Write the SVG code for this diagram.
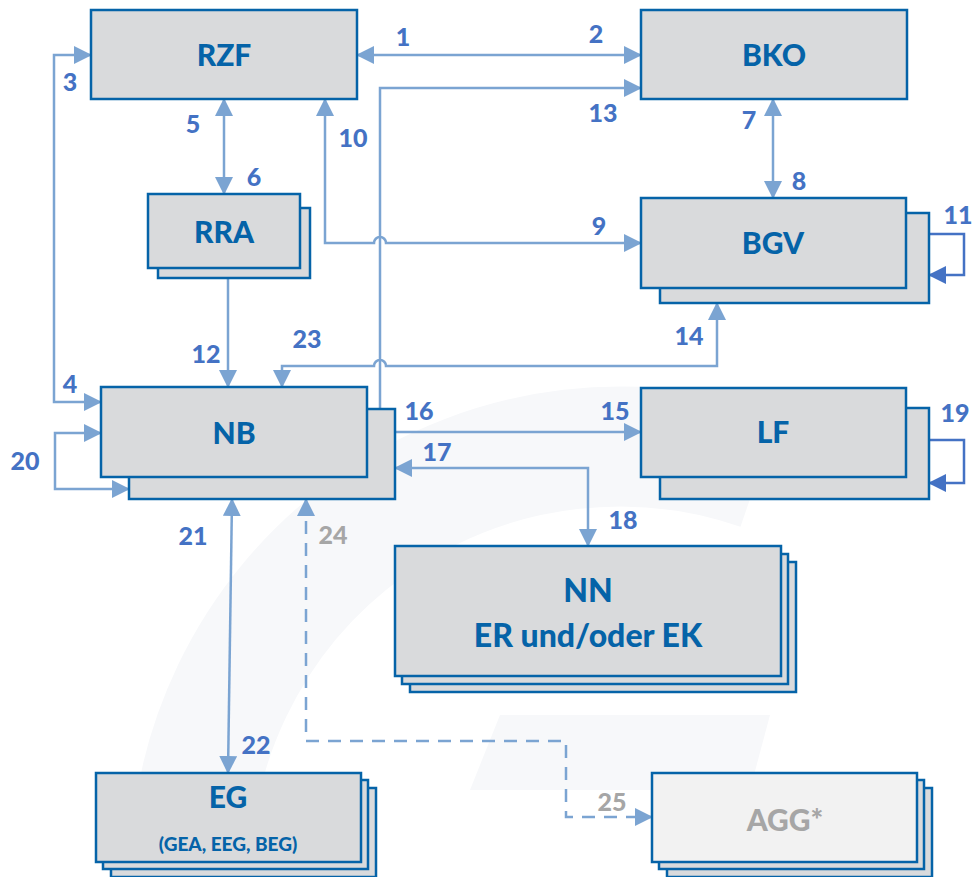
<svg xmlns="http://www.w3.org/2000/svg" width="975" height="877" viewBox="0 0 975 877">
<style>
.bg{fill:#fff}
.wm{fill:none;stroke:#f7f8fa}
.wmf{fill:#f7f8fa}
.n{fill:#d9dadc;stroke:#0563a8;stroke-width:2.5}
.na{fill:#f2f2f2;stroke:#0563a8;stroke-width:2.5}
.t{font-family:Lato,"Open Sans",sans-serif;font-weight:900;fill:#0563a8;text-anchor:middle}
.big{font-size:30px}
.nn{font-size:32px}
.small{font-size:19px}
.g{fill:#a6a6a6}
.c{fill:none;stroke:#7ba4d2;stroke-width:2.5}
.cd{fill:none;stroke:#4472c4;stroke-width:2.5}
.dash{stroke-dasharray:13 9}
.lb{font-family:Lato,"Open Sans",sans-serif;font-weight:900;font-size:25px;fill:#4472c4;text-anchor:middle}
.lg{fill:#a6a6a6}
</style>
<defs>
<marker id="a" viewBox="0 0 18 18" refX="17" refY="9" markerWidth="18" markerHeight="18" markerUnits="userSpaceOnUse" orient="auto-start-reverse"><path d="M0,0 L18,9 L0,18 z" fill="#7ba4d2"/></marker>
<marker id="ad" viewBox="0 0 18 18" refX="17" refY="9" markerWidth="18" markerHeight="18" markerUnits="userSpaceOnUse" orient="auto-start-reverse"><path d="M0,0 L18,9 L0,18 z" fill="#4472c4"/></marker>
</defs>
<rect class="bg" x="0" y="0" width="975" height="877"/>
<g id="watermark">
<path class="wm" stroke-width="120" d="M190,877 A430,430 0 0 1 760,470"/>
<polygon class="wmf" points="500,715 770,715 750,790 470,790"/>
</g>
<g id="connectors">
<path class="c" d="M357,55 H641" marker-start="url(#a)" marker-end="url(#a)"/>
<path class="c" d="M91,55 H54 V402 H101" marker-start="url(#a)" marker-end="url(#a)"/>
<path class="c" d="M224,99 V194" marker-start="url(#a)" marker-end="url(#a)"/>
<path class="c" d="M773,99 V198" marker-start="url(#a)" marker-end="url(#a)"/>
<path class="c" d="M325,99 V243 H374 A6,6 0 0 1 386,243 H641" marker-start="url(#a)" marker-end="url(#a)"/>
<path class="c" d="M380,409 V88 H641" marker-end="url(#a)"/>
<path class="cd" d="M906,234 H964 V275 H929" marker-start="url(#ad)" marker-end="url(#ad)"/>
<path class="c" d="M228,278 V387" marker-end="url(#a)"/>
<path class="c" d="M717,303 V366 H386 A6,6 0 0 0 374,366 H282 V387" marker-start="url(#a)" marker-end="url(#a)"/>
<path class="c" d="M367,432 H641" marker-start="url(#a)" marker-end="url(#a)"/>
<path class="c" d="M395,468 H588 V546" marker-start="url(#a)" marker-end="url(#a)"/>
<path class="cd" d="M906,440 H964 V483 H929" marker-start="url(#ad)" marker-end="url(#ad)"/>
<path class="c" d="M101,433 H55 V489 H129" marker-start="url(#a)" marker-end="url(#a)"/>
<path class="c" d="M232,499 L228,773" marker-start="url(#a)" marker-end="url(#a)"/>
<path class="c dash" d="M306,499 V741 H566 V817 H652" marker-start="url(#a)" marker-end="url(#a)"/>
</g>
<g id="RZF"><rect class="n" x="91" y="10" width="266" height="89"/><text class="t big" x="224" y="66">RZF</text></g>
<g id="BKO"><rect class="n" x="641" y="10" width="266" height="89"/><text class="t big" x="774" y="66">BKO</text></g>
<g id="RRA"><rect class="n" x="158" y="208" width="152" height="70"/><rect class="n" x="148" y="194" width="152" height="74"/><text class="t big" x="224" y="243">RRA</text></g>
<g id="BGV"><rect class="n" x="660" y="213" width="269" height="90"/><rect class="n" x="641" y="198" width="265" height="90"/><text class="t big" x="773" y="254">BGV</text></g>
<g id="NB"><rect class="n" x="129" y="409" width="266" height="90"/><rect class="n" x="101" y="387" width="266" height="90"/><text class="t big" x="234" y="444">NB</text></g>
<g id="LF"><rect class="n" x="660" y="408" width="269" height="91"/><rect class="n" x="641" y="388" width="265" height="89"/><text class="t big" x="773" y="443">LF</text></g>
<g id="NN"><rect class="n" x="410" y="562" width="386" height="130"/><rect class="n" x="402" y="554" width="386" height="130"/><rect class="n" x="395" y="546" width="386" height="130"/><text class="t nn" x="588" y="602">NN</text><text class="t nn" x="588" y="647">ER und/oder EK</text></g>
<g id="EG"><rect class="n" x="111" y="788" width="265" height="89"/><rect class="n" x="103" y="780" width="265" height="89"/><rect class="n" x="96" y="773" width="265" height="89"/><text class="t big" x="228" y="808">EG</text><text class="t small" x="228" y="851">(GEA, EEG, BEG)</text></g>
<g id="AGG"><rect class="n" x="667" y="788" width="265" height="89"/><rect class="n" x="659" y="780" width="265" height="89"/><rect class="na" x="652" y="773" width="265" height="89"/><text class="t big g" x="785" y="831">AGG*</text></g>
<g id="labels">
<text class="lb" x="403" y="46">1</text>
<text class="lb" x="596" y="43">2</text>
<text class="lb" x="70" y="91">3</text>
<text class="lb" x="70" y="393">4</text>
<text class="lb" x="193" y="133">5</text>
<text class="lb" x="254" y="186">6</text>
<text class="lb" x="749" y="129">7</text>
<text class="lb" x="799" y="190">8</text>
<text class="lb" x="599" y="235">9</text>
<text class="lb" x="353" y="147">10</text>
<text class="lb" x="958" y="224">11</text>
<text class="lb" x="206" y="363">12</text>
<text class="lb" x="603" y="122">13</text>
<text class="lb" x="689" y="345">14</text>
<text class="lb" x="615" y="420">15</text>
<text class="lb" x="419" y="420">16</text>
<text class="lb" x="437" y="461">17</text>
<text class="lb" x="623" y="529">18</text>
<text class="lb" x="955" y="422">19</text>
<text class="lb" x="25" y="470">20</text>
<text class="lb" x="193" y="545">21</text>
<text class="lb" x="256" y="754">22</text>
<text class="lb" x="307" y="348">23</text>
<text class="lb lg" x="333" y="544">24</text>
<text class="lb lg" x="612" y="811">25</text>
</g>
</svg>
